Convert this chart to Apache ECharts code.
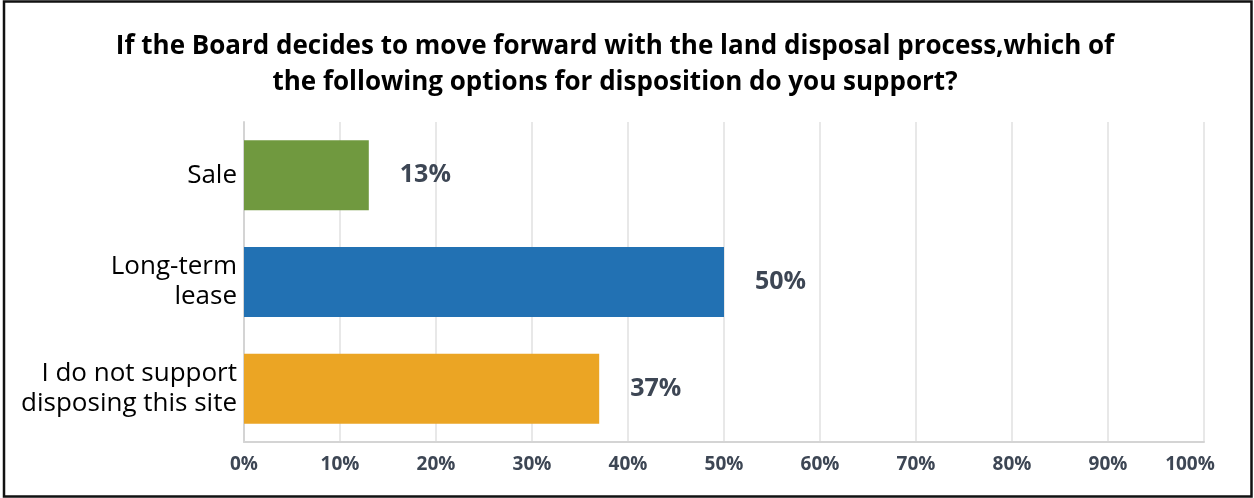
<!DOCTYPE html>
<html>
<head>
<meta charset="utf-8">
<script src="https://cdn.jsdelivr.net/npm/echarts@6/dist/echarts.min.js"></script>
<style>
  html, body { margin: 0; padding: 0; background: #fff; }
  #chart { width: 1254px; height: 498px; }
</style>
</head>
<body>
<div id="chart"></div>
<script>
// Survey answers, top to bottom
const categories = ['Sale', 'Long-term\nlease', 'I do not support\ndisposing this site'];
const percents = [13, 50, 37];
const barColors = ['#70993f', '#2271b3', '#eba524'];
const tickValues = [0, 10, 20, 30, 40, 50, 60, 70, 80, 90, 100];

const titleLines = [
  'If the Board decides to move forward with the land disposal process,which of',
  'the following options for disposition do you support?'
];

const chart = echarts.init(document.getElementById('chart'), null, { renderer: 'canvas' });

chart.setOption({
  animation: false,
  backgroundColor: '#ffffff',
  title: {
    text: titleLines.join('\n'),
    left: 610,
    top: 24,
    textAlign: 'center',
    textStyle: {
      fontFamily: 'Open Sans',
      fontWeight: 'bold',
      fontSize: 26,
      lineHeight: 36,
      color: '#000000'
    }
  },
  graphic: [{
    type: 'rect',
    shape: { x: 4, y: 1.5, width: 1247.5, height: 495 },
    style: { fill: 'none', stroke: '#111111', lineWidth: 2.5 },
    silent: true,
    z: 100
  }],
  grid: { left: 244, right: 50, top: 122, bottom: 56 },
  xAxis: {
    type: 'value',
    min: tickValues[0],
    max: tickValues[tickValues.length - 1],
    interval: 10,
    axisLine: { show: true, lineStyle: { color: '#d4d4d4', width: 2 } },
    axisTick: { show: false },
    splitLine: { show: true, lineStyle: { color: '#e8e8e8', width: 2 } },
    axisLabel: {
      margin: 13,
      fontFamily: 'Open Sans',
      fontWeight: 'bold',
      fontSize: 19,
      color: '#3d4654',
      formatter: function (v) {
        return v === 100 ? '{r|' + v + '%}' : v + '%';
      },
      rich: {
        r: {
          fontFamily: 'Open Sans',
          fontWeight: 'bold',
          fontSize: 19,
          color: '#3d4654',
          padding: [0, 28, 0, 0]
        }
      }
    }
  },
  yAxis: {
    type: 'category',
    data: categories,
    inverse: true,
    axisLine: { show: true, lineStyle: { color: '#d4d4d4', width: 2 } },
    axisTick: { show: false },
    axisLabel: {
      margin: 7,
      fontFamily: 'Open Sans',
      fontSize: 26,
      lineHeight: 30,
      color: '#000000',
      align: 'right'
    }
  },
  series: [{
    type: 'bar',
    data: percents.map(function (v, i) {
      return { value: v, itemStyle: { color: barColors[i] } };
    }),
    barWidth: 70,
    label: {
      show: true,
      position: 'right',
      distance: 31,
      formatter: '{c}%',
      fontFamily: 'Open Sans',
      fontWeight: 'bold',
      fontSize: 25,
      color: '#3d4654'
    }
  }]
});
</script>
</body>
</html>
